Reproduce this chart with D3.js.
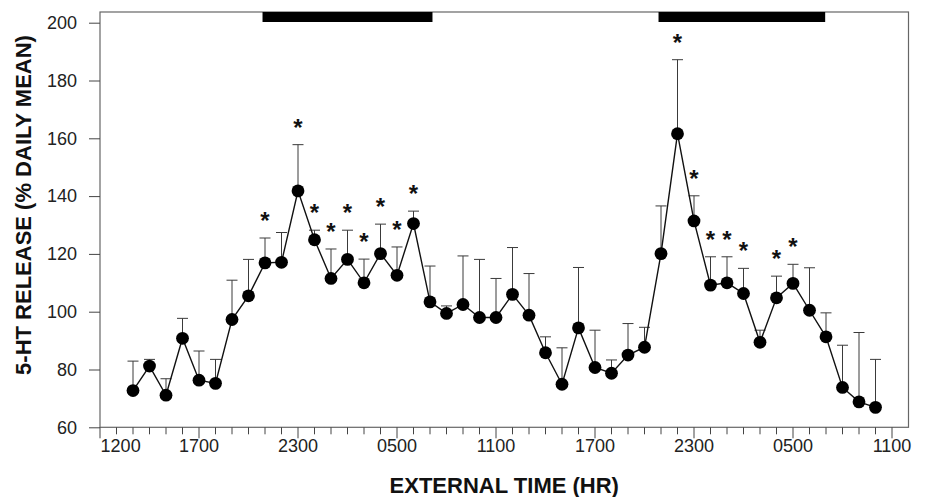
<!DOCTYPE html>
<html>
<head>
<meta charset="utf-8">
<script src="https://cdn.jsdelivr.net/npm/d3@7"></script>
<style>
    body { margin: 0; background: #fff; }
    svg { font-family: "Liberation Sans", Arial, sans-serif; }
    .tick-label { font-size: 18px; fill: #222; }
    .axis-title { font-size: 22px; font-weight: bold; fill: #111; }
</style>
</head>
<body>
<div id="container"></div>
<script>
// hours since midnight of day 1 (13 = 1300, 37 = 1300 next day ...)
const hours = [13, 14, 15, 16, 17, 18, 19, 20, 21, 22, 23, 24, 25, 26, 27, 28, 29, 30, 31, 32, 33, 34, 35,
    36, 37, 38, 39, 40, 41, 42, 43, 44, 45, 46, 47, 48, 49, 50, 51, 52, 53, 54, 55, 56, 57, 58];
const means = [72.7, 81.2, 71.1, 90.8, 76.3, 75.2, 97.3, 105.5, 116.9, 117.1, 141.8, 124.9, 111.5, 118.1,
    110.0, 120.1, 112.6, 130.5, 103.4, 99.4, 102.5, 98.0, 98.0, 106.0, 98.8, 85.8, 74.9, 94.4, 80.7, 78.7,
    85.0, 87.7, 120.1, 161.6, 131.4, 109.2, 110.0, 106.3, 89.4, 104.8, 109.8, 100.5, 91.3, 73.8, 68.8, 66.9];
const sems = [10.2, 2.3, 5.7, 6.9, 10.1, 8.3, 13.6, 12.6, 8.6, 10.3, 16.0, 3.3, 10.2, 10.1, 8.2, 10.2, 9.8,
    4.3, 12.4, 2.6, 16.8, 20.1, 13.5, 16.2, 14.4, 5.5, 12.6, 20.9, 12.9, 4.6, 10.9, 6.9, 16.5, 25.6, 8.7, 9.8,
    9.0, 8.7, 4.2, 7.5, 6.6, 14.7, 8.3, 14.6, 24.0, 16.6];
// hours marked with an asterisk
const signifHours = [21, 23, 24, 25, 26, 27, 28, 29, 30, 46, 47, 48, 49, 50, 52, 53];
// dark phases (black bars on top)
const darkStart = [20.85, 44.85];
const darkEnd = [31.15, 54.95];
const xTickHours = [12.25, 17, 23, 29, 35, 41, 47, 53, 59];
const xTickLabels = ["1200", "1700", "2300", "0500", "1100", "1700", "2300", "0500", "1100"];
const yTicks = [60, 80, 100, 120, 140, 160, 180, 200];

const width = 929, height = 497;
const plot = {left: 100, right: 908.5, top: 12, bottom: 427.3};

const x = d3.scaleLinear().domain([11, 60]).range([plot.left, plot.right]);
const y = d3.scaleLinear().domain([60, 200]).range([plot.bottom, 22.7]);

const data = hours.map((h, i) => ({h: h, m: means[i], e: sems[i], sig: signifHours.includes(h)}));

const svg = d3.select("#container")
    .append("svg")
    .attr("width", width)
    .attr("height", height);

// frame
svg.append("rect")
    .attr("x", plot.left)
    .attr("y", plot.top)
    .attr("width", plot.right - plot.left)
    .attr("height", plot.bottom - plot.top)
    .attr("fill", "none")
    .attr("stroke", "#666")
    .attr("stroke-width", 1.2);

// dark bars
svg.selectAll(".dark")
    .data(darkStart)
    .enter()
    .append("rect")
    .attr("class", "dark")
    .attr("x", d => x(d))
    .attr("y", plot.top)
    .attr("width", (d, i) => x(darkEnd[i]) - x(d))
    .attr("height", 10)
    .attr("fill", "#000");

// y axis
const yAxis = svg.append("g")
    .attr("transform", `translate(${plot.left},0)`)
    .call(d3.axisLeft(y).tickValues(yTicks).tickSize(11).tickPadding(12).tickFormat(d3.format("d")));
yAxis.select(".domain").remove();
yAxis.selectAll("line").attr("stroke", "#444");
yAxis.selectAll("text").attr("class", "tick-label").attr("font-family", null).attr("font-size", null);

// x axis: minor ticks every hour, longer ones every 6 h
const minorHours = d3.range(11, 60);
const xAxis = svg.append("g")
    .attr("transform", `translate(0,${plot.bottom})`);
xAxis.selectAll(".minor")
    .data(minorHours)
    .enter()
    .append("line")
    .attr("x1", d => x(d))
    .attr("x2", d => x(d))
    .attr("y1", 0)
    .attr("y2", d => (d === 11 || (d - 11) % 6 === 0) ? 11 : 7)
    .attr("stroke", "#444");
xAxis.selectAll(".xlab")
    .data(xTickHours)
    .enter()
    .append("text")
    .attr("class", "tick-label")
    .attr("x", d => x(d))
    .attr("y", 25)
    .attr("text-anchor", "middle")
    .text((d, i) => xTickLabels[i]);

// error bars (upward only)
const err = svg.append("g").attr("stroke", "#3a3a3a").attr("stroke-width", 1);
err.selectAll(".ev")
    .data(data)
    .enter()
    .append("line")
    .attr("x1", d => x(d.h))
    .attr("x2", d => x(d.h))
    .attr("y1", d => y(d.m))
    .attr("y2", d => y(d.m + d.e));
err.selectAll(".cap")
    .data(data)
    .enter()
    .append("line")
    .attr("x1", d => x(d.h) - 5.5)
    .attr("x2", d => x(d.h) + 5.5)
    .attr("y1", d => y(d.m + d.e))
    .attr("y2", d => y(d.m + d.e));

// mean line + points
const line = d3.line().x(d => x(d.h)).y(d => y(d.m));
svg.append("path")
    .datum(data)
    .attr("d", line)
    .attr("fill", "none")
    .attr("stroke", "#111")
    .attr("stroke-width", 1.4);

svg.selectAll(".pt")
    .data(data)
    .enter()
    .append("circle")
    .attr("cx", d => x(d.h))
    .attr("cy", d => y(d.m))
    .attr("r", 6.4)
    .attr("fill", "#000");

// asterisks above the error bars
svg.selectAll(".star")
    .data(data.filter(d => d.sig))
    .enter()
    .append("text")
    .attr("x", d => x(d.h))
    .attr("y", d => y(d.m + d.e) - 21 + 12)
    .attr("text-anchor", "middle")
    .attr("font-size", 24)
    .attr("font-weight", "bold")
    .attr("fill", "#111")
    .text("*");

// titles
svg.append("text")
    .attr("class", "axis-title")
    .attr("x", (plot.left + plot.right) / 2)
    .attr("y", 493)
    .attr("text-anchor", "middle")
    .text("EXTERNAL TIME (HR)");

svg.append("text")
    .attr("class", "axis-title")
    .attr("transform", "translate(31,205) rotate(-90)")
    .attr("text-anchor", "middle")
    .text("5-HT RELEASE (% DAILY MEAN)");
</script>
</body>
</html>
